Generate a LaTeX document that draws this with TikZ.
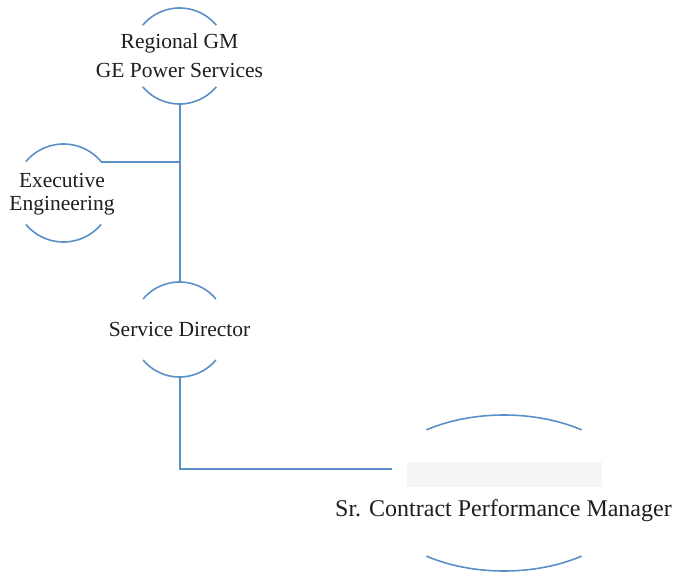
\documentclass[tikz,border=0pt]{standalone}
\usepackage{fontspec}
\setmainfont{Liberation Serif}
\usetikzlibrary{shapes.geometric}
\definecolor{linkblue}{RGB}{91,143,199}
\definecolor{txt}{RGB}{30,30,30}
\begin{document}
\begin{tikzpicture}[x=1pt,y=1pt,
  orgtext/.style={draw=none,inner sep=0pt,text=txt,align=center,
    font=\fontsize{21.5}{29}\selectfont},
  arcline/.style={draw=linkblue,line width=1.6pt},
  connector/.style={draw=linkblue,line width=2pt}]
\useasboundingbox (0,0) rectangle (673,574);
% nodes
\node[orgtext] (gm) at (179.5,518) {Regional GM\\GE Power Services};
\node[orgtext,font=\fontsize{21.5}{23.5}\selectfont] (ee) at (62,380) {Executive\\Engineering};
\node[orgtext] (sd) at (179.5,244.5) {Service Director};
\node[ellipse,draw=none,minimum width=264pt,minimum height=156pt,inner sep=0pt] (cpm) at (504,81) {};
\node[rectangle,fill=black!4,draw=none,minimum width=195pt,minimum height=25pt,inner sep=0pt] (cpmbox) at (504.5,99.5) {};
\node[text=txt,font=\fontsize{24}{29}\selectfont,inner sep=0pt] (cpmtext) at (503.5,63) {Sr. Contract Performance Manager};
% anchor points on the circles
\path (gm.center) ++(0,-48) coordinate (gmS);
\path (sd.center) ++(0,47.5) coordinate (sdN);
\path (sd.center) ++(0,-47.5) coordinate (sdS);
\path (63.5,381) coordinate (eeC) ++(40:49) coordinate (eeNE);
% arcs
\draw[arcline] ([shift={(40:48)}]gm.center) arc[start angle=40,end angle=140,radius=48];
\draw[arcline] ([shift={(220:48)}]gm.center) arc[start angle=220,end angle=320,radius=48];
\draw[arcline] (eeNE) arc[start angle=40,end angle=140,radius=49];
\draw[arcline] ([shift={(220:49)}]eeC) arc[start angle=220,end angle=320,radius=49];
\draw[arcline] ([shift={(40:47.5)}]sd.center) arc[start angle=40,end angle=140,radius=47.5];
\draw[arcline] ([shift={(220:47.5)}]sd.center) arc[start angle=220,end angle=320,radius=47.5];
\draw[arcline] ([shift={(54:132 and 78)}]cpm.center) arc[start angle=54,end angle=126,x radius=132,y radius=78];
\draw[arcline] ([shift={(234:132 and 78)}]cpm.center) arc[start angle=234,end angle=306,x radius=132,y radius=78];
% connectors
\coordinate (cend) at (392,105);
\draw[connector] (gmS) -- (sdN);
\draw[connector] (eeNE) -- (eeNE -| gmS);
\draw[connector] (sdS) |- (cend);
\end{tikzpicture}
\end{document}
